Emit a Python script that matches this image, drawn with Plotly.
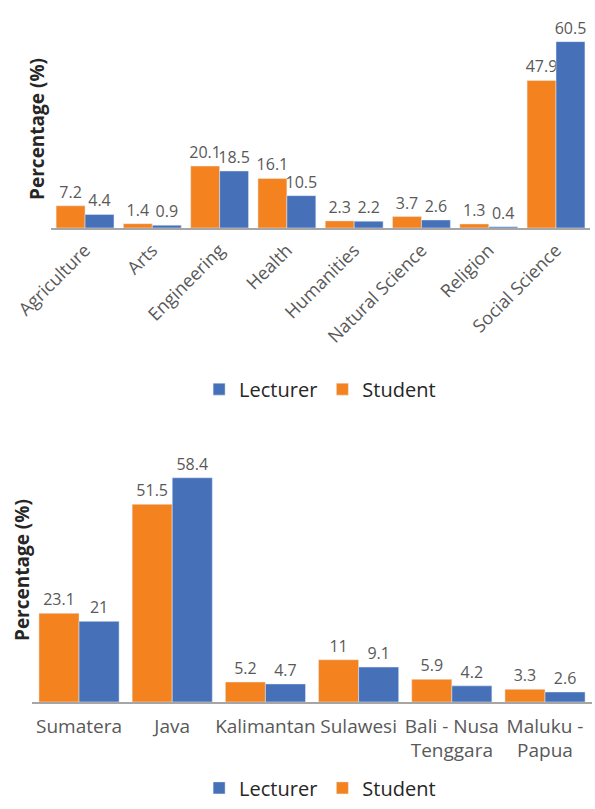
import plotly.graph_objects as go

# ---- data ----
fields = ["Agriculture", "Arts", "Engineering", "Health", "Humanities",
          "Natural Science", "Religion", "Social Science"]
field_student = [7.2, 1.4, 20.1, 16.1, 2.3, 3.7, 1.3, 47.9]
field_lecturer = [4.4, 0.9, 18.5, 10.5, 2.2, 2.6, 0.4, 60.5]

regions = ["Sumatera", "Java", "Kalimantan", "Sulawesi",
           "Bali - Nusa<br>Tenggara", "Maluku -<br>Papua"]
region_student = [23.1, 51.5, 5.2, 11, 5.9, 3.3]
region_lecturer = [21, 58.4, 4.7, 9.1, 4.2, 2.6]

ORANGE = "#F4831F"
BLUE = "#4671B9"
GREY_TXT = "#595959"
FONT = "Open Sans"

fig = go.Figure()

def fmt(v):
    return f"{v:g}"

def bar(x, y, name, color, xa, ya, lg):
    return go.Bar(x=x, y=y, name=name, marker_color=color,
                  text=[fmt(v) for v in y], textposition="outside",
                  constraintext="none",
                  textfont=dict(size=16, color=GREY_TXT, family=FONT), cliponaxis=False,
                  xaxis=xa, yaxis=ya, legend=lg)

# top chart
fig.add_trace(bar(fields, field_student, "Student", ORANGE, "x", "y", "legend"))
fig.add_trace(bar(fields, field_lecturer, "Lecturer", BLUE, "x", "y", "legend"))
# bottom chart
fig.add_trace(bar(regions, region_student, "Student", ORANGE, "x2", "y2", "legend2"))
fig.add_trace(bar(regions, region_lecturer, "Lecturer", BLUE, "x2", "y2", "legend2"))

axis_line = dict(showline=True, linecolor="#A6A6A6", linewidth=1.5, ticks="",
                 showgrid=False, zeroline=False, automargin=False, fixedrange=True)

fig.update_layout(
    width=595, height=809,
    margin=dict(l=0, r=0, t=0, b=0, autoexpand=False),
    paper_bgcolor="white", plot_bgcolor="white",
    font=dict(family=FONT, color=GREY_TXT),
    barmode="group",
    bargap=0.14,
    showlegend=True,
    xaxis=dict(domain=[0.0864, 0.991], anchor="y", tickangle=-45, ticklabelstandoff=3,
               tickfont=dict(size=18, color=GREY_TXT), **axis_line),
    yaxis=dict(domain=[0.7182, 0.9847], range=[0, 70], visible=False),
    xaxis2=dict(domain=[0.0545, 0.9943], anchor="y2", tickangle=0, ticklabelstandoff=6,
                tickfont=dict(size=19, color=GREY_TXT), **axis_line),
    yaxis2=dict(domain=[0.1323, 0.4408], range=[0, 65], visible=False),
    legend=dict(orientation="h", x=0.538, y=0.519, xanchor="center", yanchor="middle",
                traceorder="reversed", font=dict(size=20, color="#262626"),
                itemclick=False),
    legend2=dict(orientation="h", x=0.538, y=0.002, xanchor="center", yanchor="bottom",
                 traceorder="reversed", font=dict(size=20, color="#262626"),
                 itemclick=False),
    annotations=[
        dict(text="<b>Percentage (%)</b>", xref="paper", yref="paper",
             x=0.062, y=0.8405, xanchor="center", yanchor="middle", textangle=-90,
             showarrow=False, font=dict(size=19, color="#262626", family=FONT)),
        dict(text="<b>Percentage (%)</b>", xref="paper", yref="paper",
             x=0.037, y=0.2954, xanchor="center", yanchor="middle", textangle=-90,
             showarrow=False, font=dict(size=19, color="#262626", family=FONT)),
    ],
)

fig.write_html("out.html")
